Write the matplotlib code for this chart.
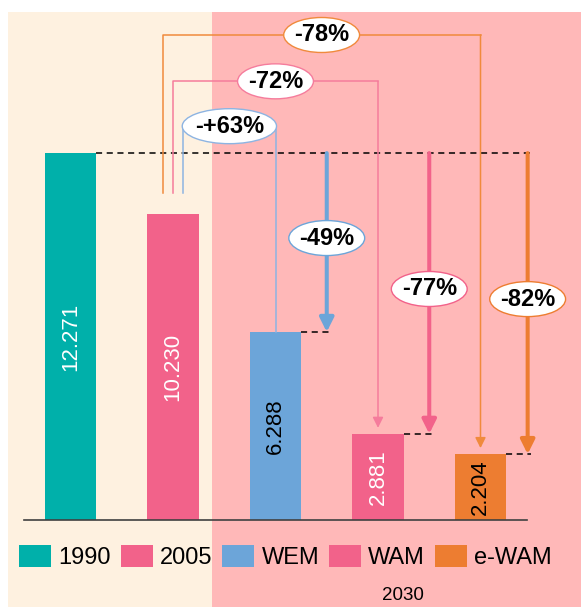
import matplotlib
matplotlib.use("Agg")
import matplotlib.pyplot as plt
from matplotlib.patches import Rectangle, Ellipse, Patch

plt.rcParams["font.family"] = ["Liberation Sans", "DejaVu Sans"]

# --- data ---
categories = ["1990", "2005", "WEM", "WAM", "e-WAM"]
values = [12.271, 10.230, 6.288, 2.881, 2.204]
value_labels = ["12.271", "10.230", "6.288", "2.881", "2.204"]
bar_colors = ["#00B0AA", "#F2628A", "#6CA5D9", "#F2628A", "#ED7D31"]
value_text_colors = ["white", "white", "black", "white", "black"]

# change of the 2030 scenarios vs 1990 (thick arrows) and vs 2005 (brackets)
scenario_idx = [2, 3, 4]
change_vs_1990 = ["-49%", "-77%", "-82%"]
change_vs_2005 = ["-+63%", "-72%", "-78%"]
bracket_colors = ["#8DB4E2", "#F57C9C", "#F08A3C"]

group_label = "2030"

# --- figure: full-figure axes, pixel-matched scale ---
W, H = 581, 607
fig = plt.figure(figsize=(W / 100, H / 100), dpi=100)

# background panels (history / projections)
fig.patches.append(Rectangle((8 / W, 0), (212 - 8) / W, 1 - 12 / H,
                             transform=fig.transFigure, facecolor="#FEF1E0",
                             edgecolor="none", zorder=-10))
fig.patches.append(Rectangle((212 / W, 0), (W - 212) / W, 1 - 12 / H,
                             transform=fig.transFigure, facecolor="#FFB8B8",
                             edgecolor="none", zorder=-10))

ax = fig.add_axes([0, 0, 1, 1])
ax.axis("off")
x0_px, dx_px, base_px, unit_px = 70.5, 102.5, 520, 29.9
ax.set_xlim(-x0_px / dx_px, (W - x0_px) / dx_px)
ax.set_ylim(-(H - base_px) / unit_px, base_px / unit_px)

xs = list(range(len(categories)))
bw = 0.5
ax.bar(xs, values, width=bw, color=bar_colors, zorder=2)
ax.plot([-0.45, 4.45], [0, 0], color="#404040", lw=1.2, zorder=3)

for x, v, lab, tc in zip(xs, values, value_labels, value_text_colors):
    ax.text(x, v / 2, lab, rotation=90, ha="center", va="center",
            fontsize=16, color=tc, zorder=4)

ref = values[0]
ax.plot([bw / 2, 4.48], [ref, ref], color="black", lw=1.1,
        dashes=(4, 3), zorder=3)


def ellipse_label(cx, cy, text, ec, w=0.74):
    ax.add_patch(Ellipse((cx, cy), w, 1.17, facecolor="white",
                         edgecolor=ec, lw=1.0, zorder=6))
    ax.text(cx, cy, text, ha="center", va="center", fontsize=17,
            fontweight="bold", zorder=7)


# thick arrows: change vs 1990
arrow_dx = [0.5, 0.5, 0.46]
for i, lab, off in zip(scenario_idx, change_vs_1990, arrow_dx):
    xa = i + off
    v = values[i]
    ax.plot([i + bw / 2, xa + 0.03], [v, v], color="black", lw=1.1,
            dashes=(4, 3), zorder=3)
    ax.annotate("", xy=(xa, v), xytext=(xa, ref),
                arrowprops=dict(arrowstyle="-|>,head_length=0.7,head_width=0.35",
                                color=bar_colors[i], lw=2.9, mutation_scale=12,
                                shrinkA=0, shrinkB=0), zorder=4)
    ellipse_label(xa, (ref + v) / 2 + 0.15, lab, bar_colors[i])

# brackets: change vs 2005
start_y = values[1] + 0.7
levels = [ref + 0.9, ref + 2.4, ref + 3.95]
left_dx = [0.1, 0.0, -0.1]
for k, (i, lab, bc) in enumerate(zip(scenario_idx, change_vs_2005, bracket_colors)):
    xl = 1 + left_dx[k]
    lvl = levels[k]
    ax.plot([xl, xl, i], [start_y, lvl, lvl], color=bc, lw=1.1, zorder=3)
    if k == 0:
        ax.plot([i, i], [lvl, values[i]], color=bc, lw=1.1, zorder=3)
        ellipse_label((xl + i) / 2, lvl, lab, bc, w=0.92)
    else:
        ax.annotate("", xy=(i, values[i] + 0.2), xytext=(i, lvl),
                    arrowprops=dict(arrowstyle="-|>,head_length=0.7,head_width=0.35",
                                    color=bc, lw=1.1, mutation_scale=9,
                                    shrinkA=0, shrinkB=0), zorder=3)
        ellipse_label((xl + i) / 2, lvl, lab, bc)

# legend
handles = [Patch(facecolor=c, edgecolor="none") for c in bar_colors]
ax.legend(handles, categories, loc="center", ncol=5, frameon=False,
          bbox_to_anchor=(285.5 / W, 1 - 557 / H), bbox_transform=fig.transFigure,
          fontsize=17, handlelength=1.36, handleheight=1.06,
          handletextpad=0.3, columnspacing=0.42, borderpad=0, borderaxespad=0)

fig.text(403 / W, 1 - 596 / H, group_label, ha="center", va="center", fontsize=13.5)

fig.savefig("out.png", dpi=100)
